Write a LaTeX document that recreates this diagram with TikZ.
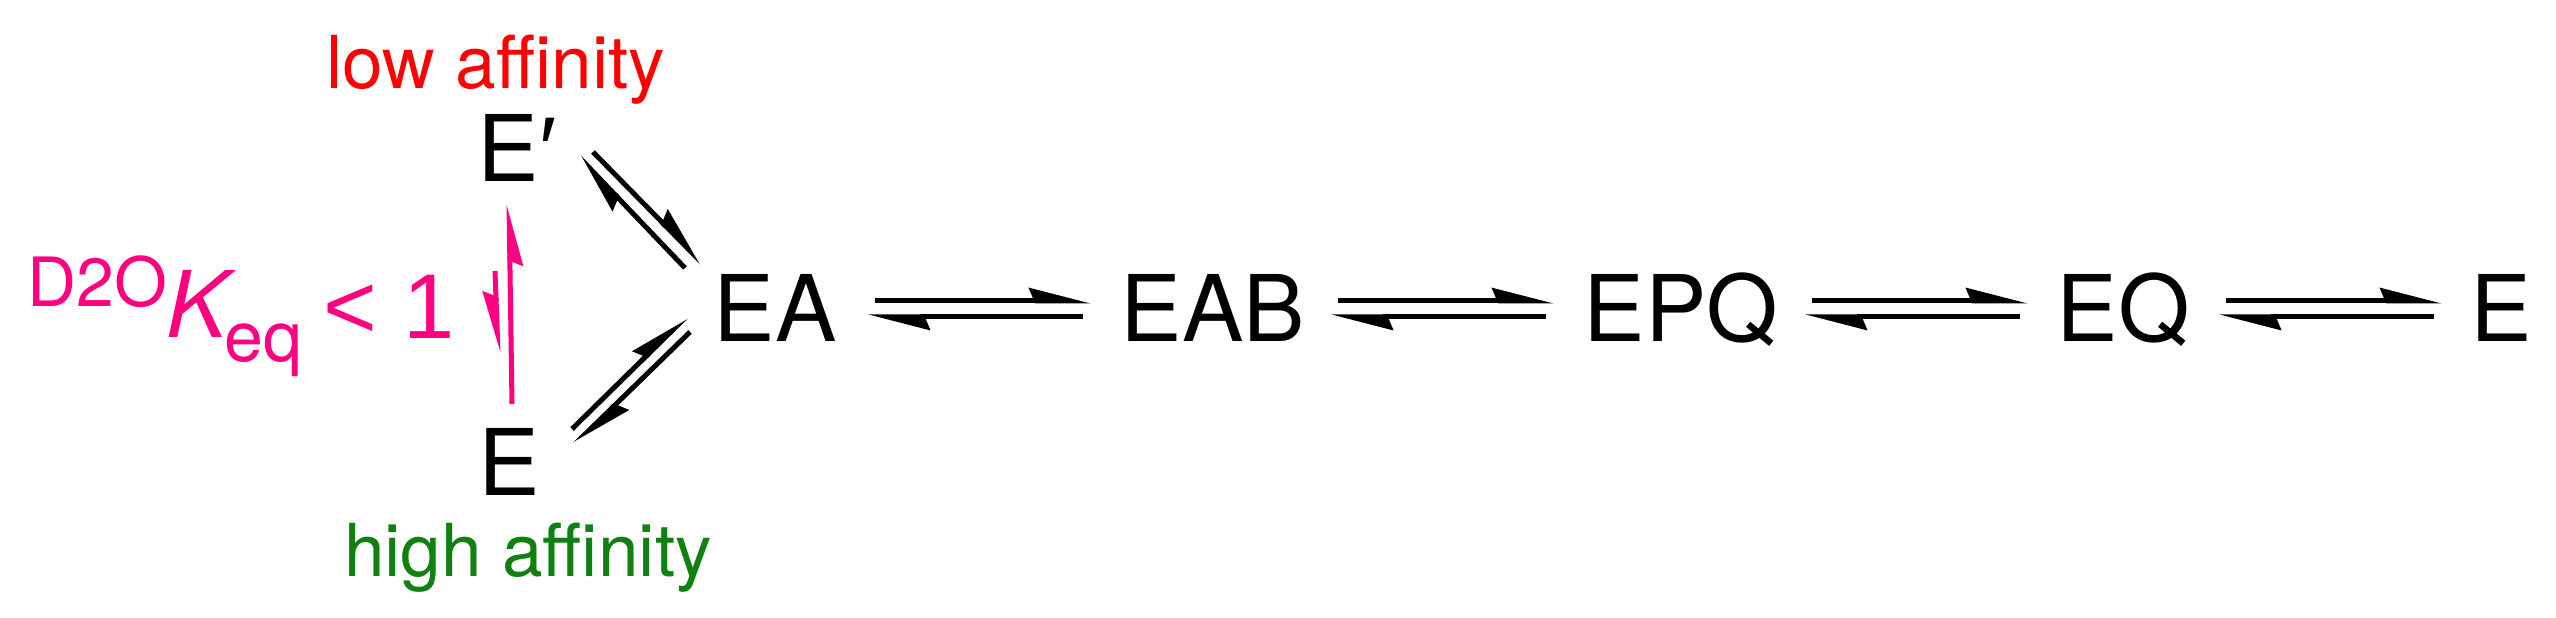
\documentclass[tikz,border=0pt]{standalone}
\usepackage{fontspec}
\setmainfont{TeX Gyre Heros}
\newfontfamily\libfont{Liberation Sans}
\usetikzlibrary{arrows.meta}
\definecolor{pinkc}{RGB}{255,0,128}
\definecolor{greenc}{RGB}{16,128,16}
\definecolor{redc}{RGB}{255,0,0}
\begin{document}
\begin{tikzpicture}[x=0.25pt,y=-0.25pt,
  lbl/.style={inner sep=0pt, anchor=base west, font=\fontsize{23pt}{27pt}\selectfont},
  aff/.style={inner sep=0pt, anchor=base, font=\fontsize{18.25pt}{22pt}\selectfont},
  harp/.style={line width=1.25pt, -{Stealth[harpoon, length=13pt, width=6.5pt, inset=1.3pt]}},
  harpsw/.style={line width=1.25pt, -{Stealth[harpoon, swap, length=13pt, width=6.5pt, inset=1.3pt]}},
]
\useasboundingbox (0,0) rectangle (2556,618);
% labels
\node[aff, text=redc] (low) at (496,89) {low affinity};
\node[aff, text=greenc] (high) at (528,577) {high affinity};
\node[lbl] (Ep) at (477,182) {E{\libfont\char"2032}};
\node[lbl] (Eb) at (478,496) {E};
\node[lbl] (EA) at (713,342) {EA};
\node[lbl] (EAB) at (1120,342) {EAB};
\node[lbl] (EPQ) at (1583,342) {EPQ};
\node[lbl] (EQ) at (2056,342) {EQ};
\node[lbl] (Ef) at (2470,342) {E};
% Keq label
\node[inner sep=0pt, anchor=base west, text=pinkc, font=\fontsize{17pt}{20pt}\selectfont] (d2o) at (27,307) {D2O};
\node[inner sep=0pt, anchor=base west, text=pinkc, font=\fontsize{23pt}{27pt}\selectfont\itshape] (K) at (166,338) {K};
\node[inner sep=0pt, anchor=base west, text=pinkc, font=\fontsize{17.5pt}{20pt}\selectfont] (eq) at (224,362) {eq};
\node[inner sep=0pt, anchor=base west, text=pinkc, font=\fontsize{23pt}{27pt}\selectfont\libfont] (lt) at (323,339) {< 1};
% arrow coordinates
\coordinate (u1s) at (593,152); \coordinate (u1e) at (702,263);
\coordinate (u2s) at (685,268); \coordinate (u2e) at (579,157);
\coordinate (l1s) at (572,429); \coordinate (l1e) at (686,317);
\coordinate (l2s) at (690,332); \coordinate (l2e) at (575,444);
\coordinate (p1s) at (512,404); \coordinate (p1e) at (509,204);
\coordinate (p2s) at (495,271); \coordinate (p2e) at (498,353);
\draw[harp] (u1s) -- (u1e);
\draw[harp] (u2s) -- (u2e);
\draw[harp] (l1s) -- (l1e);
\draw[harp] (l2s) -- (l2e);
\draw[harpsw, draw=pinkc, fill=pinkc] (p1s) -- (p1e);
\draw[harpsw, draw=pinkc, fill=pinkc] (p2s) -- (p2e);
% horizontal equilibria
\foreach \s/\n in {875/a,1338/b,1812/c,2226/d}{
  \coordinate (f\n s) at (\s,301);
  \coordinate (f\n e) at ({\s+216},301);
  \coordinate (r\n s) at ({\s+208},317);
  \coordinate (r\n e) at ({\s-7},317);
  \draw[harp] (f\n s) -- (f\n e);
  \draw[harp] (r\n s) -- (r\n e);
}
\end{tikzpicture}
\end{document}
